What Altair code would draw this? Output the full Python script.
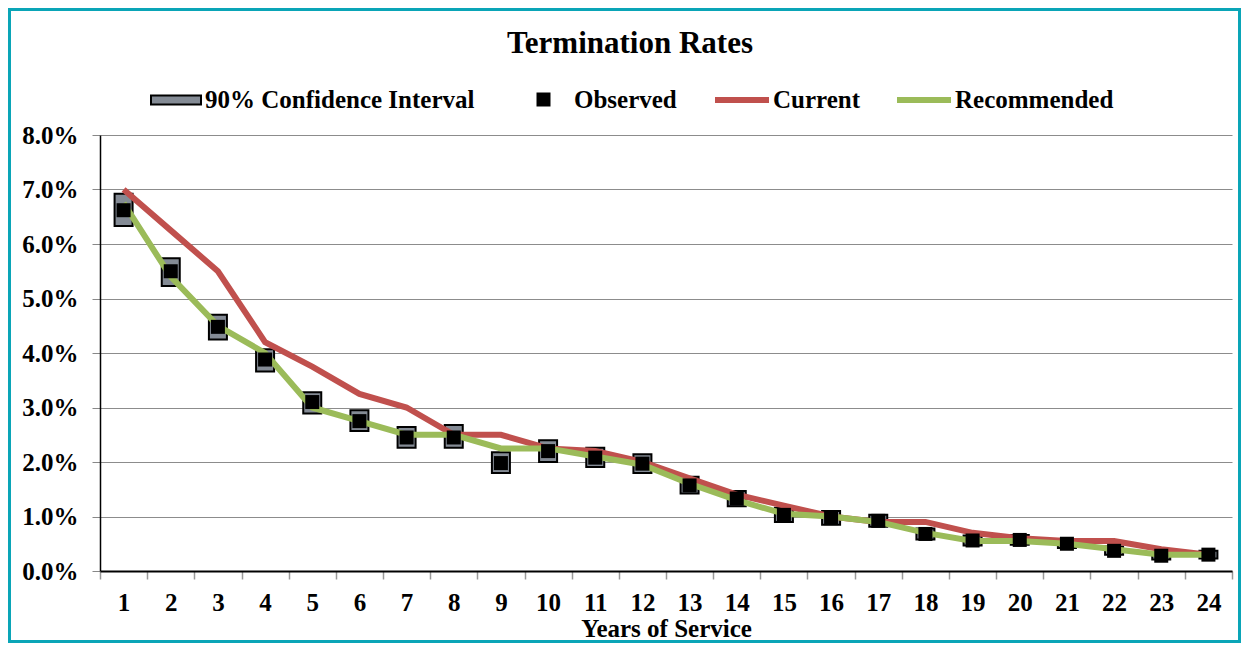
import altair as alt
import pandas as pd

years = list(range(1, 25))
observed = [6.62, 5.50, 4.48, 3.88, 3.10, 2.75, 2.45, 2.45, 1.98, 2.20, 2.08, 1.97,
            1.57, 1.33, 1.03, 0.97, 0.92, 0.68, 0.56, 0.57, 0.50, 0.37, 0.28, 0.30]
ci_low = [6.33, 5.23, 4.25, 3.66, 2.89, 2.57, 2.26, 2.26, 1.80, 2.00, 1.91, 1.80,
          1.42, 1.19, 0.90, 0.85, 0.81, 0.58, 0.47, 0.48, 0.42, 0.30, 0.21, 0.23]
ci_high = [6.92, 5.74, 4.70, 4.07, 3.28, 2.95, 2.64, 2.68, 2.18, 2.40, 2.26, 2.14,
           1.73, 1.47, 1.16, 1.10, 1.03, 0.78, 0.65, 0.66, 0.58, 0.45, 0.35, 0.37]
current = [7.00, 6.25, 5.50, 4.20, 3.75, 3.25, 3.00, 2.50, 2.50, 2.25, 2.20, 2.00,
           1.70, 1.40, 1.20, 1.00, 0.90, 0.90, 0.70, 0.60, 0.55, 0.55, 0.40, 0.30]
recommended = [6.75, 5.40, 4.50, 4.00, 3.00, 2.75, 2.50, 2.50, 2.25, 2.25, 2.10, 1.95,
               1.60, 1.30, 1.05, 1.00, 0.90, 0.70, 0.55, 0.55, 0.50, 0.40, 0.30, 0.30]
y_ticks = [0, 0.01, 0.02, 0.03, 0.04, 0.05, 0.06, 0.07, 0.08]

FONT = "Liberation Serif"
FS = 25
RED = "#c0504d"
GREEN = "#9bbb59"
GRAY = "#848b95"

obs_df = pd.DataFrame({
    "Year": years,
    "Observed": [v / 100 for v in observed],
    "Low": [v / 100 for v in ci_low],
    "High": [v / 100 for v in ci_high],
    "ci": "90% Confidence Interval",
    "obs": "Observed",
})
lines_df = pd.DataFrame({
    "Year": years * 2,
    "Rate": [v / 100 for v in current] + [v / 100 for v in recommended],
    "Series": ["Current"] * 24 + ["Recommended"] * 24,
})

W, H = 1132, 436
PAD_L, PAD_T, PAD_R, PAD_B = 92, 127, 9, 72

x_enc = alt.X("Year:O", sort=years,
              scale=alt.Scale(paddingInner=0, paddingOuter=0),
              axis=alt.Axis(labelAngle=0, tickBand="extent", tickSize=8, tickColor="#999999",
                            tickWidth=1.5, labelPadding=11, grid=False,
                            domainColor="black", domainWidth=2,
                            labelFont=FONT, labelFontSize=FS, labelFontWeight="bold",
                            labelColor="black",
                            title="Years of Service", titleFont=FONT, titleFontSize=FS,
                            titleFontWeight="bold", titleColor="black", titlePadding=1))
y_scale = alt.Scale(domain=[0, 0.08], nice=False)

legend_text = dict(labelFont=FONT, labelFontSize=FS, labelFontWeight="bold",
                   labelColor="black", labelLimit=400, title=None, orient="none")

ci = alt.Chart(obs_df).mark_bar(size=18, stroke="black", strokeWidth=2).encode(
    x=x_enc,
    y=alt.Y("Low:Q", scale=y_scale,
            axis=alt.Axis(format=".1%", values=y_ticks, tickSize=8, tickColor="#888888",
                          labelPadding=14, domainColor="black", domainWidth=1.5,
                          gridColor="#8c8c8c", gridWidth=1.2,
                          labelFont=FONT, labelFontSize=FS, labelFontWeight="bold",
                          labelColor="black", title=None)),
    y2="High:Q",
    fill=alt.Fill("ci:N", scale=alt.Scale(domain=["90% Confidence Interval"], range=[GRAY]),
                  legend=alt.Legend(legendX=50, legendY=-61,
                                    symbolType="M-1,-0.18H1V0.18H-1Z", symbolSize=2500,
                                    symbolStrokeColor="black", symbolStrokeWidth=2,
                                    symbolOpacity=1, labelOffset=3, **legend_text)),
)

lines = alt.Chart(lines_df).mark_line(strokeWidth=6).encode(
    x=alt.X("Year:O", sort=years),
    y=alt.Y("Rate:Q", scale=y_scale),
    stroke=alt.Stroke("Series:N",
                      scale=alt.Scale(domain=["Current", "Recommended"], range=[RED, GREEN]),
                      legend=alt.Legend(legendX=612, legendY=-65,
                                        direction="horizontal", symbolType="stroke",
                                        symbolSize=2916, symbolStrokeWidth=6,
                                        labelOffset=1, columnPadding=24, **legend_text)),
    order=alt.Order("Series:N"),
    detail="Series:N",
)

obs = alt.Chart(obs_df).mark_point(filled=True, size=196, color="black", opacity=1).encode(
    x=alt.X("Year:O", sort=years),
    y=alt.Y("Observed:Q", scale=y_scale),
    shape=alt.Shape("obs:N", scale=alt.Scale(domain=["Observed"], range=["square"]),
                    legend=alt.Legend(legendX=431, legendY=-48,
                                      symbolSize=196, symbolFillColor="black",
                                      symbolStrokeColor="black", symbolOpacity=1,
                                      labelOffset=18, **legend_text)),
)

frame = alt.Chart(pd.DataFrame({"a": [0]})).mark_rect(
    filled=False, stroke="#0aa5b7", strokeWidth=3
).encode(
    x=alt.value(-PAD_L + 1.5), x2=alt.value(W + PAD_R - 1.5),
    y=alt.value(-PAD_T + 1.5), y2=alt.value(H + PAD_B - 1.5),
)

chart = alt.layer(ci, lines, obs, frame).resolve_scale(
    fill="independent", stroke="independent", shape="independent"
).properties(
    width=W, height=H,
    autosize=alt.AutoSizeParams(type="none"),
    padding={"left": PAD_L, "top": PAD_T, "right": PAD_R, "bottom": PAD_B},
    title=alt.TitleParams(text="Termination Rates", font=FONT, fontSize=31,
                          fontWeight="bold", color="black", anchor="middle", dx=-36, dy=56),
    background="white",
).configure_view(strokeOpacity=0)

chart.save("out.html", embed_options={"renderer": "svg", "actions": False})
